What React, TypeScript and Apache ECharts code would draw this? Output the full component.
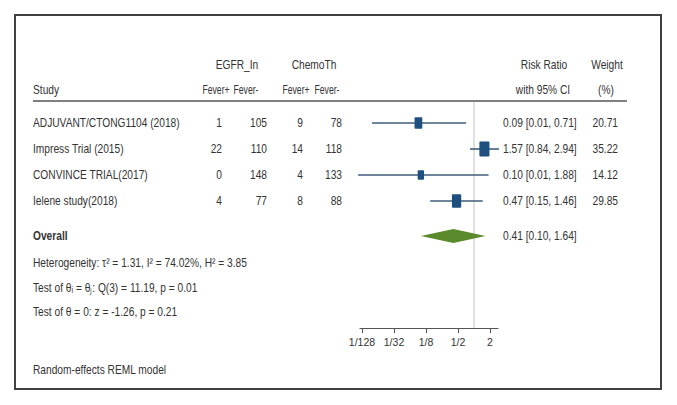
import React, { useEffect, useRef } from "react";
import * as echarts from "echarts";

const studies = ["ADJUVANT/CTONG1104 (2018)", "Impress Trial (2015)", "CONVINCE TRIAL(2017)", "Ielene study(2018)"];
const egfrFeverPos = [1, 22, 0, 4];
const egfrFeverNeg = [105, 110, 148, 77];
const chemoFeverPos = [9, 14, 4, 8];
const chemoFeverNeg = [78, 118, 133, 88];
const riskRatio = [0.09, 1.57, 0.1, 0.47];
const ciLow = [0.012, 0.84, 0.0066, 0.15];
const ciHigh = [0.71, 2.94, 1.88, 1.46];
const weights = [20.71, 35.22, 14.12, 29.85];
const studyRows = [0, 1, 2, 3];
const overallRR = [0.41];
const overallLow = [0.1];
const overallHigh = [1.64];
const tickValues = [1 / 128, 1 / 32, 1 / 8, 1 / 2, 2];
const tickLabels = ["1/128", "1/32", "1/8", "1/2", "2"];
const footTexts = [
  "Heterogeneity: \u03c4\u00b2 = 1.31, I\u00b2 = 74.02%, H\u00b2 = 3.85",
  "Test of \u03b8\u1d62 = \u03b8\u2c7c: Q(3) = 11.19, p = 0.01",
  "Test of \u03b8 = 0: z = -1.26, p = 0.21",
];

const FONT = "'Liberation Sans', Arial, sans-serif";
const FS = 12;
const SX = 0.85;
const TXT = "#333333";
const l2 = (v: number) => Math.log2(v);
const fmtCI = (r: number, a: number, b: number) => `${r.toFixed(2)} [${a.toFixed(2)}, ${b.toFixed(2)}]`;

function txt(text: string, x: number, y: number, align: string, bold = false, sx = SX) {
  return {
    type: "text",
    x,
    y,
    scaleX: sx,
    style: { text, fill: TXT, fontSize: FS, fontFamily: FONT, fontWeight: bold ? "bold" : "normal", align, verticalAlign: "middle" },
  };
}

export default function App() {
  const ref = useRef<HTMLDivElement>(null);
  useEffect(() => {
    const chart = echarts.init(ref.current!, null, { renderer: "svg" });
    const headerRow1 = -2.23;
    const headerRow2 = -1.27;
    const headerLine = -0.85;
    const overallRow = 4.35;
    const footRows = [5.38, 6.35, 7.27];
    const modelRow = 9.5;
    const tickLogs = tickValues.map(l2);

    const option: any = {
      animation: false,
      grid: { left: 360, top: 97, width: 138, height: 231 },
      xAxis: {
        type: "value",
        min: -7.125,
        max: 1.5,
        axisLine: { show: true, onZero: false, lineStyle: { color: "#555", width: 1.2 } },
        axisTick: { show: true, customValues: tickLogs, length: 5, lineStyle: { color: "#555" } },
        axisLabel: {
          show: true,
          customValues: tickLogs,
          formatter: (v: number) => tickLabels[tickLogs.findIndex((t) => Math.abs(t - v) < 1e-6)] ?? "",
          color: TXT,
          fontSize: 10.5,
          fontFamily: FONT,
          margin: 8,
        },
        splitLine: { show: false },
      },
      yAxis: { type: "value", inverse: true, min: -1, max: 7.885, show: false },
      graphic: [
        { type: "rect", shape: { x: 15, y: 15, width: 646, height: 374 }, style: { fill: "none", stroke: "#404040", lineWidth: 2 } },
      ],
      series: [
        {
          type: "custom",
          clip: false,
          data: [0],
          renderItem: (params: any, api: any) => {
            const y = (r: number) => api.coord([0, r])[1];
            const children: any[] = [];
            children.push(txt("EGFR_In", 237, y(headerRow1), "center"));
            children.push(txt("ChemoTh", 314, y(headerRow1), "center"));
            children.push(txt("Risk Ratio", 544, y(headerRow1), "center"));
            children.push(txt("Weight", 607, y(headerRow1), "center"));
            children.push(txt("Study", 33, y(headerRow2), "left"));
            children.push(txt("Fever+", 216, y(headerRow2), "center", false, 0.72));
            children.push(txt("Fever-", 246, y(headerRow2), "center", false, 0.72));
            children.push(txt("Fever+", 296, y(headerRow2), "center", false, 0.72));
            children.push(txt("Fever-", 327, y(headerRow2), "center", false, 0.72));
            children.push(txt("with 95% CI", 543, y(headerRow2), "center"));
            children.push(txt("(%)", 606, y(headerRow2), "center"));
            const hl = y(headerLine);
            children.push({ type: "line", shape: { x1: 33, y1: hl, x2: 627, y2: hl }, style: { stroke: "#555", lineWidth: 1.5 } });
            const x1 = api.coord([0, 0])[0];
            children.push({ type: "line", shape: { x1, y1: hl + 1, x2: x1, y2: y(7.885) }, style: { stroke: "#c4c4c4", lineWidth: 1 } });
            studyRows.forEach((r, i) => {
              const yy = y(r);
              children.push(txt(studies[i], 33, yy, "left"));
              children.push(txt(String(egfrFeverPos[i]), 222, yy, "right"));
              children.push(txt(String(egfrFeverNeg[i]), 267, yy, "right"));
              children.push(txt(String(chemoFeverPos[i]), 303, yy, "right"));
              children.push(txt(String(chemoFeverNeg[i]), 342, yy, "right"));
              children.push(txt(fmtCI(riskRatio[i], ciLow[i], ciHigh[i]), 503, yy, "left"));
              children.push(txt(weights[i].toFixed(2), 618, yy, "right"));
            });
            const oy = y(overallRow);
            children.push(txt("Overall", 33, oy, "left", true));
            children.push(txt(fmtCI(overallRR[0], overallLow[0], overallHigh[0]), 503, oy, "left"));
            footTexts.forEach((t, i) => children.push(txt(t, 33, y(footRows[i]), "left")));
            children.push(txt("Random-effects REML model", 33, y(modelRow), "left"));
            return { type: "group", children };
          },
        },
        {
          type: "custom",
          clip: false,
          data: studyRows.map((r, i) => [riskRatio[i], ciLow[i], ciHigh[i], weights[i], r]),
          renderItem: (params: any, api: any) => {
            const row = api.value(4);
            const pLo = api.coord([l2(api.value(1)), row]);
            const pHi = api.coord([l2(api.value(2)), row]);
            const pC = api.coord([l2(api.value(0)), row]);
            const s = Math.sqrt(api.value(3));
            const w = 1.7 * s;
            const h = 2.5 * s;
            return {
              type: "group",
              children: [
                { type: "line", shape: { x1: pLo[0], y1: pLo[1], x2: pHi[0], y2: pHi[1] }, style: { stroke: "#3f5d7d", lineWidth: 1.6 } },
                { type: "rect", shape: { x: pC[0] - w / 2, y: pC[1] - h / 2, width: w, height: h, r: 1 }, style: { fill: "#1d4f7f" } },
              ],
            };
          },
        },
        {
          type: "custom",
          clip: false,
          data: overallRR.map((r, i) => [r, overallLow[i], overallHigh[i], overallRow]),
          renderItem: (params: any, api: any) => {
            const row = api.value(3);
            const pLo = api.coord([l2(api.value(1)), row]);
            const pHi = api.coord([l2(api.value(2)), row]);
            const pC = api.coord([l2(api.value(0)), row]);
            const h = 7;
            return {
              type: "polygon",
              shape: { points: [[pLo[0], pLo[1]], [pC[0], pC[1] - h], [pHi[0], pHi[1]], [pC[0], pC[1] + h]] },
              style: { fill: "#5a8a2c" },
            };
          },
        },
      ],
    };
    chart.setOption(option);
    return () => chart.dispose();
  }, []);
  return <div ref={ref} style={{ position: "fixed", left: 0, top: 0, width: 677, height: 405, background: "#fff" }} />;
}
